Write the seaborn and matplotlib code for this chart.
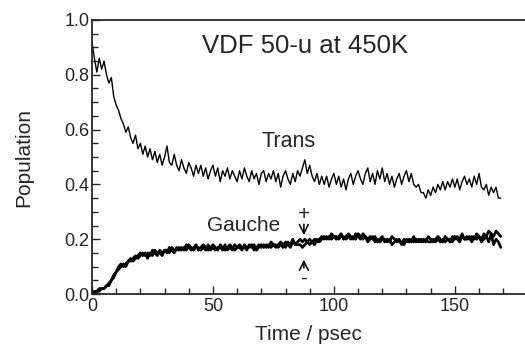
import numpy as np
import pandas as pd
import seaborn as sns
import matplotlib.pyplot as plt
from matplotlib.ticker import MultipleLocator

# time axis, psec (1 psec step)
time = np.arange(170)

# trans population
trans = [0.92, 0.86, 0.81, 0.86, 0.82, 0.85,
         0.80, 0.77, 0.79, 0.72, 0.69,
         0.67, 0.64, 0.62, 0.59, 0.61,
         0.57, 0.55, 0.58, 0.53, 0.55,
         0.51, 0.54, 0.50, 0.53, 0.49,
         0.52, 0.48, 0.51, 0.47, 0.50,
         0.54, 0.48, 0.47, 0.51, 0.47,
         0.45, 0.49, 0.46, 0.44, 0.48,
         0.46, 0.43, 0.47, 0.44, 0.47,
         0.43, 0.46, 0.42, 0.45, 0.47,
         0.43, 0.46, 0.41, 0.45, 0.43,
         0.46, 0.42, 0.45, 0.43, 0.41,
         0.45, 0.42, 0.46, 0.43, 0.41,
         0.45, 0.42, 0.44, 0.40, 0.44,
         0.45, 0.41, 0.44, 0.42, 0.45,
         0.41, 0.44, 0.39, 0.43, 0.45,
         0.42, 0.40, 0.44, 0.41, 0.45,
         0.43, 0.46, 0.49, 0.44, 0.47,
         0.43, 0.41, 0.44, 0.40, 0.43,
         0.40, 0.43, 0.39, 0.42, 0.44,
         0.40, 0.43, 0.39, 0.42, 0.38,
         0.42, 0.44, 0.40, 0.43, 0.45,
         0.42, 0.40, 0.44, 0.46, 0.41,
         0.44, 0.40, 0.45, 0.42, 0.46,
         0.41, 0.44, 0.40, 0.43, 0.39,
         0.42, 0.44, 0.40, 0.43, 0.45,
         0.41, 0.44, 0.40, 0.39, 0.40,
         0.37, 0.37, 0.35, 0.38, 0.36,
         0.39, 0.37, 0.40, 0.38, 0.41,
         0.38, 0.41, 0.39, 0.42, 0.39,
         0.42, 0.38, 0.41, 0.43, 0.40,
         0.42, 0.39, 0.43, 0.40, 0.44,
         0.39, 0.38, 0.40, 0.36, 0.39,
         0.37, 0.39, 0.35, 0.35]

# gauche+ population
gauche_p = [0.00, 0.01, 0.01, 0.02, 0.02, 0.02,
            0.03, 0.04, 0.05, 0.07, 0.08,
            0.10, 0.11, 0.10, 0.11, 0.12,
            0.12, 0.13, 0.14, 0.13, 0.14,
            0.15, 0.14, 0.15, 0.14, 0.16,
            0.15, 0.14, 0.16, 0.15, 0.16,
            0.15, 0.17, 0.16, 0.15, 0.17,
            0.16, 0.17, 0.16, 0.18, 0.17,
            0.16, 0.17, 0.18, 0.16, 0.17,
            0.18, 0.17, 0.16, 0.17, 0.18,
            0.17, 0.16, 0.18, 0.17, 0.16,
            0.17, 0.18, 0.17, 0.16, 0.17,
            0.18, 0.17, 0.17, 0.16, 0.18,
            0.17, 0.18, 0.16, 0.17, 0.18,
            0.17, 0.18, 0.17, 0.19, 0.18,
            0.17, 0.18, 0.19, 0.18, 0.17,
            0.19, 0.18, 0.20, 0.18, 0.19,
            0.20, 0.19, 0.20, 0.19, 0.20,
            0.19, 0.20, 0.19, 0.20, 0.21,
            0.20, 0.21, 0.20, 0.22, 0.21,
            0.20, 0.21, 0.22, 0.20, 0.21,
            0.22, 0.21, 0.20, 0.22, 0.21,
            0.20, 0.22, 0.21, 0.20, 0.21,
            0.20, 0.21, 0.19, 0.20, 0.21,
            0.19, 0.20, 0.19, 0.21, 0.20,
            0.19, 0.20, 0.18, 0.20, 0.19,
            0.20, 0.19, 0.21, 0.19, 0.20,
            0.19, 0.20, 0.19, 0.21, 0.20,
            0.19, 0.20, 0.21, 0.20, 0.19,
            0.21, 0.20, 0.19, 0.21, 0.20,
            0.21, 0.20, 0.22, 0.20, 0.21,
            0.20, 0.21, 0.20, 0.22, 0.21,
            0.20, 0.22, 0.21, 0.23, 0.22,
            0.21, 0.23, 0.22, 0.21]

# gauche- population
gauche_m = [0.00, 0.00, 0.01, 0.01, 0.02, 0.02,
            0.03, 0.03, 0.05, 0.06, 0.08,
            0.09, 0.10, 0.11, 0.10, 0.12,
            0.13, 0.12, 0.13, 0.14, 0.15,
            0.14, 0.15, 0.13, 0.15, 0.14,
            0.16, 0.15, 0.15, 0.14, 0.16,
            0.16, 0.15, 0.17, 0.16, 0.16,
            0.17, 0.16, 0.17, 0.16, 0.18,
            0.17, 0.16, 0.17, 0.17, 0.16,
            0.17, 0.16, 0.18, 0.16, 0.17,
            0.16, 0.17, 0.17, 0.16, 0.18,
            0.16, 0.17, 0.16, 0.18, 0.17,
            0.17, 0.16, 0.18, 0.17, 0.17,
            0.18, 0.16, 0.17, 0.18, 0.17,
            0.18, 0.17, 0.18, 0.17, 0.18,
            0.18, 0.17, 0.18, 0.17, 0.19,
            0.18, 0.17, 0.19, 0.18, 0.18,
            0.18, 0.17, 0.18, 0.19, 0.18,
            0.19, 0.18, 0.20, 0.19, 0.20,
            0.21, 0.20, 0.21, 0.20, 0.21,
            0.21, 0.20, 0.21, 0.21, 0.20,
            0.21, 0.20, 0.21, 0.20, 0.22,
            0.21, 0.20, 0.21, 0.19, 0.20,
            0.21, 0.19, 0.20, 0.19, 0.20,
            0.20, 0.19, 0.20, 0.18, 0.19,
            0.20, 0.19, 0.19, 0.18, 0.20,
            0.19, 0.20, 0.19, 0.20, 0.19,
            0.20, 0.19, 0.20, 0.19, 0.19,
            0.20, 0.19, 0.20, 0.19, 0.20,
            0.19, 0.20, 0.20, 0.19, 0.21,
            0.20, 0.19, 0.21, 0.20, 0.20,
            0.21, 0.19, 0.21, 0.20, 0.21,
            0.19, 0.20, 0.21, 0.19, 0.22,
            0.18, 0.20, 0.19, 0.17]

df = pd.DataFrame({'time': time, 'trans': trans,
                   'gauche_p': gauche_p, 'gauche_m': gauche_m})

sns.set_style('ticks')
plt.rcParams['font.family'] = ['Liberation Sans', 'DejaVu Sans']

fig = plt.figure(figsize=(5.25, 3.47), dpi=100)
ax = fig.add_axes([0.1752, 0.1527, 0.8248, 0.7897])

sns.lineplot(data=df, x='time', y='trans', ax=ax, color='black', lw=1.0)
sns.lineplot(data=df, x='time', y='gauche_p', ax=ax, color='black', lw=1.9)
sns.lineplot(data=df, x='time', y='gauche_m', ax=ax, color='black', lw=1.9)

ax.set_xlim(0, 179)
ax.set_ylim(0, 1.0)
ax.xaxis.set_major_locator(MultipleLocator(50))
ax.xaxis.set_minor_locator(MultipleLocator(10))
ax.yaxis.set_major_locator(MultipleLocator(0.2))
ax.yaxis.set_minor_locator(MultipleLocator(0.05))
ax.yaxis.set_major_formatter(plt.FormatStrFormatter('%.1f'))
ax.tick_params(which='both', direction='in', labelsize=13, width=1.0)
ax.tick_params(which='major', length=6)
ax.tick_params(which='minor', length=4)
ax.tick_params(axis='x', pad=3)
ax.tick_params(axis='y', pad=2)
for s in ['left', 'top', 'bottom']:
    ax.spines[s].set_linewidth(1.3)
ax.spines['right'].set_visible(False)

ax.set_xlabel('Time / psec', fontsize=15, labelpad=7)
ax.set_ylabel('Population', fontsize=15, labelpad=22)

ax.text(88, 0.905, 'VDF 50-u at 450K', fontsize=18.5, ha='center', va='center')
ax.text(81.4, 0.555, 'Trans', fontsize=15.5, ha='center', va='center')
ax.text(62.5, 0.25, 'Gauche', fontsize=15, ha='center', va='center')

ax.text(87.6, 0.29, '+', fontsize=15, ha='center', va='center')
ax.annotate('', xy=(87.6, 0.205), xytext=(87.6, 0.265),
            arrowprops=dict(arrowstyle='->', color='black', lw=1.1,
                            mutation_scale=16))
ax.text(87.6, 0.058, '-', fontsize=15, ha='center', va='center')
ax.annotate('', xy=(87.6, 0.135), xytext=(87.6, 0.085),
            arrowprops=dict(arrowstyle='->', color='black', lw=1.1,
                            mutation_scale=16))

fig.savefig('out.png', dpi=100)
